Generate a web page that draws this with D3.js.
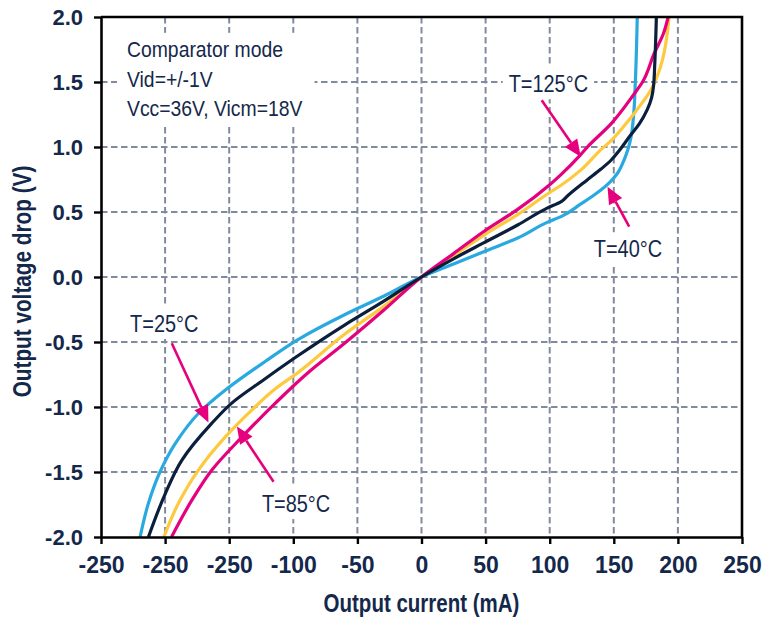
<!DOCTYPE html>
<html>
<head>
<meta charset="utf-8">
<script src="https://cdn.jsdelivr.net/npm/d3@7"></script>
<style>
  html, body { margin: 0; padding: 0; background: #fff; }
  svg { display: block; font-family: "Liberation Sans", Arial, sans-serif; }
</style>
</head>
<body>
<div id="chart"></div>
<script>
// Axis ticks (the x labels repeat "-250" as in the original figure)
const xTickValues = [-250, -200, -150, -100, -50, 0, 50, 100, 150, 200, 250];
const xTickLabels = ['-250', '-250', '-250', '-100', '-50', '0', '50', '100', '150', '200', '250'];
const yTickValues = [-2, -1.5, -1, -0.5, 0, 0.5, 1, 1.5, 2];
const yTickLabels = ['-2.0', '-1.5', '-1.0', '-0.5', '0.0', '0.5', '1.0', '1.5', '2.0'];

// Curves: [output current (mA), output voltage drop (V)]
const curveT40 = [
  [-219.5, -2.0], [-213, -1.74], [-204, -1.5], [-192, -1.28], [-174, -1.05], [-153, -0.87],
  [-122, -0.65], [-97, -0.485], [-60, -0.29], [-30, -0.15], [0, 0], [25, 0.1], [50, 0.2],
  [75, 0.3], [98, 0.42], [110, 0.47], [124, 0.56], [136, 0.64], [147, 0.73], [153, 0.8],
  [158, 0.9], [161, 0.98], [163.5, 1.08], [165.5, 1.25], [166.8, 1.5], [168.3, 2.0]
];
const curveT25 = [
  [-213, -2.0], [-200, -1.67], [-187, -1.41], [-164, -1.13], [-148, -0.97], [-123, -0.79],
  [-97, -0.61], [-60, -0.37], [-30, -0.19], [0, 0], [25, 0.14], [50, 0.27], [75, 0.4],
  [98, 0.53], [109, 0.58], [114, 0.625], [129, 0.745], [140, 0.83], [148, 0.9], [154, 0.97],
  [163, 1.09], [170, 1.18], [176, 1.285], [179.5, 1.38], [181, 1.47], [182, 1.65], [183.2, 2.0]
];
const curveT85 = [
  [-201, -2.0], [-189.6, -1.74], [-174, -1.485], [-153, -1.23], [-132, -1.02], [-114, -0.86],
  [-97, -0.74], [-60, -0.44], [-30, -0.23], [0, 0], [25, 0.165], [50, 0.33], [75, 0.48],
  [100, 0.65], [108, 0.7], [124, 0.82], [140, 0.98], [148, 1.05], [157, 1.15], [166, 1.26],
  [179, 1.44], [186.5, 1.62], [191.4, 1.85], [193, 2.0]
];
const curveT125 = [
  [-195, -2.0], [-179, -1.715], [-163.5, -1.485], [-140, -1.23], [-114, -0.97], [-89, -0.74],
  [-60, -0.51], [-30, -0.26], [0, 0], [25, 0.18], [50, 0.36], [75, 0.52], [100, 0.71],
  [109, 0.79], [124, 0.94], [129.4, 1.0], [148, 1.18], [166, 1.41], [172.4, 1.5],
  [181.5, 1.72], [188.8, 1.875], [192.4, 2.0]
];

const seriesData = [curveT40, curveT85, curveT125, curveT25];
const seriesColors = ['#29a9e0', '#fdc93e', '#e5007d', '#0b1f3d'];

const infoLines = ['Comparator mode', 'Vid=+/-1V', 'Vcc=36V, Vicm=18V'];

// Curve labels with their arrows, in data units
const labelText = ['T=125°C', 'T=40°C', 'T=25°C', 'T=85°C'];
const labelAt = [[68, 1.425], [134.4, 0.154], [-227.3, -0.42], [-124.5, -1.805]];
const arrowFrom = [[93.75, 1.36], [162, 0.387], [-194.8, -0.51], [-115.4, -1.575]];
const arrowTo = [[124.2, 0.925], [145.1, 0.695], [-166.2, -1.12], [-144, -1.15]];

const width = 763;
const height = 619;
const textColor = '#14284b';
const pink = '#e6007e';

const svg = d3.select('#chart')
  .append('svg')
  .attr('width', width)
  .attr('height', height);

const x = d3.scaleLinear().domain([-250, 250]).range([101, 742]);
const y = d3.scaleLinear().domain([-2, 2]).range([537, 17]);

// condensed text: regular font squeezed horizontally
function squeezedText(parent, px, py, str, size, weight, sx, anchor) {
  return parent.append('text')
    .attr('transform', `translate(${px},${py}) scale(${sx},1)`)
    .attr('font-size', size)
    .attr('font-weight', weight)
    .attr('text-anchor', anchor || 'start')
    .attr('fill', textColor)
    .text(str);
}

// Grid
const grid = svg.append('g')
  .attr('stroke', '#818b9e')
  .attr('stroke-width', 2)
  .attr('stroke-dasharray', '6.5,3.5');

grid.selectAll('.vgrid')
  .data(xTickValues.slice(1, -1))
  .enter().append('line')
  .attr('x1', d => x(d)).attr('x2', d => x(d))
  .attr('y1', y(2)).attr('y2', y(-2));

grid.selectAll('.hgrid')
  .data(yTickValues.slice(1, -1))
  .enter().append('line')
  .attr('x1', x(-250)).attr('x2', x(250))
  .attr('y1', d => y(d)).attr('y2', d => y(d));

// Info block
const info = svg.append('g');
const infoBg = info.append('rect').attr('fill', '#fff');
infoLines.forEach((line, i) => {
  squeezedText(info, 127, 57 + i * 29.5, line, 22, 'normal', 0.88);
});
const ib = info.node().getBBox();
infoBg.attr('x', ib.x - 10).attr('y', ib.y - 4)
  .attr('width', ib.width + 22).attr('height', ib.height + 10);

// Curve labels
labelText.forEach((t, i) => {
  const g = svg.append('g');
  const bg = g.append('rect').attr('fill', '#fff');
  squeezedText(g, x(labelAt[i][0]), y(labelAt[i][1]), t, 24, 'normal', 0.83);
  const b = g.node().getBBox();
  bg.attr('x', b.x - 6).attr('y', b.y - 3)
    .attr('width', b.width + 12).attr('height', b.height + 5);
});

// Curves
const plot = svg.append('g');
svg.append('clipPath').attr('id', 'plot-clip')
  .append('rect')
  .attr('x', x(-250)).attr('y', y(2))
  .attr('width', x(250) - x(-250)).attr('height', y(-2) - y(2));

const line = d3.line()
  .x(d => x(d[0]))
  .y(d => y(d[1]))
  .curve(d3.curveMonotoneY);

seriesData.forEach((data, i) => {
  const sorted = data.slice().sort((a, b) => b[1] - a[1]);
  plot.append('path')
    .datum(sorted)
    .attr('clip-path', 'url(#plot-clip)')
    .attr('fill', 'none')
    .attr('stroke', seriesColors[i])
    .attr('stroke-width', 3.2)
    .attr('stroke-linejoin', 'round')
    .attr('d', line);
});

// Arrows
arrowFrom.forEach((from, i) => {
  const x0 = x(from[0]), y0 = y(from[1]);
  const x1 = x(arrowTo[i][0]), y1 = y(arrowTo[i][1]);
  const ang = Math.atan2(y1 - y0, x1 - x0);
  const len = 17, half = 7.5;
  const bx = x1 - len * Math.cos(ang), by = y1 - len * Math.sin(ang);
  svg.append('line')
    .attr('x1', x0).attr('y1', y0)
    .attr('x2', bx).attr('y2', by)
    .attr('stroke', pink)
    .attr('stroke-width', 2.6);
  svg.append('path')
    .attr('d', `M${x1},${y1}L${bx + half * Math.sin(ang)},${by - half * Math.cos(ang)}` +
      `L${bx - half * Math.sin(ang)},${by + half * Math.cos(ang)}Z`)
    .attr('fill', pink);
});

// Axes
const xAxis = svg.append('g')
  .attr('transform', `translate(0,${y(-2)})`)
  .call(d3.axisBottom(x)
    .tickValues(xTickValues)
    .tickFormat((d, i) => xTickLabels[i])
    .tickSize(7)
    .tickPadding(13)
    .tickSizeOuter(0));

const yAxis = svg.append('g')
  .attr('transform', `translate(${x(-250)},0)`)
  .call(d3.axisLeft(y)
    .tickValues(yTickValues)
    .tickFormat((d, i) => yTickLabels[i])
    .tickSize(7)
    .tickPadding(11)
    .tickSizeOuter(0));

[xAxis, yAxis].forEach(ax => {
  ax.select('.domain').attr('stroke', '#000').attr('stroke-width', 2.6);
  ax.selectAll('.tick line').attr('stroke', '#000').attr('stroke-width', 2.4);
  ax.selectAll('.tick text')
    .attr('fill', textColor)
    .attr('font-family', '"Liberation Sans", Arial, sans-serif')
    .attr('font-weight', 'bold');
});
xAxis.selectAll('.tick text').attr('font-size', 23);
yAxis.selectAll('.tick text').attr('font-size', 22);

// Top and right frame
svg.append('path')
  .attr('d', `M${x(-250)},${y(2)}H${x(250)}V${y(-2)}`)
  .attr('fill', 'none')
  .attr('stroke', '#000')
  .attr('stroke-width', 2.6);

// Axis titles
squeezedText(svg, x(0), 611.5, 'Output current (mA)', 25, 'bold', 0.82, 'middle');
svg.append('text')
  .attr('transform', 'translate(31,281.5) rotate(-90) scale(0.83,1)')
  .attr('font-size', 25)
  .attr('font-weight', 'bold')
  .attr('text-anchor', 'middle')
  .attr('fill', textColor)
  .text('Output voltage drop (V)');
</script>
</body>
</html>
